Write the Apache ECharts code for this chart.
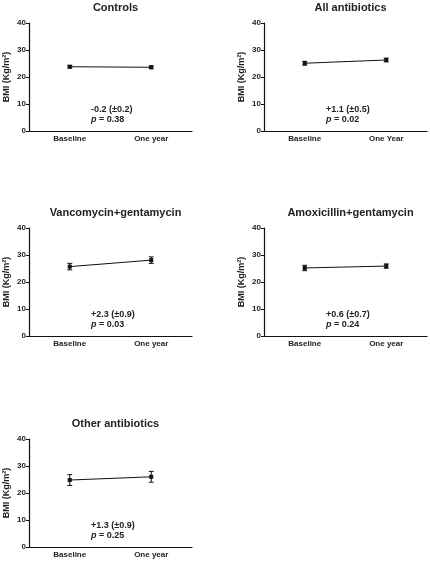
<!DOCTYPE html>
<html><head><meta charset="utf-8">
<script src="https://cdn.jsdelivr.net/npm/echarts@6/dist/echarts.min.js"></script>
<style>html,body{margin:0;padding:0;background:#fff}#c{width:430px;height:563px}</style>
</head><body><div id="c"></div>
<script>
// ---- data ----
const panelTitles = ["Controls", "All antibiotics", "Vancomycin+gentamycin", "Amoxicillin+gentamycin", "Other antibiotics"];
const catLabels = [
  ["Baseline", "One year"],
  ["Baseline", "One Year"],
  ["Baseline", "One year"],
  ["Baseline", "One year"],
  ["Baseline", "One year"]
];
const meanControls = [23.8, 23.6];
const errControls = [0.5, 0.5];
const meanAll = [25.1, 26.3];
const errAll = [0.7, 0.7];
const meanVanco = [25.7, 28.1];
const errVanco = [1.2, 1.2];
const meanAmox = [25.2, 25.9];
const errAmox = [1.0, 0.8];
const meanOther = [24.8, 26.0];
const errOther = [2.0, 2.0];
const changeText = ["-0.2 (\u00b10.2)", "+1.1 (\u00b10.5)", "+2.3 (\u00b10.9)", "+0.6 (\u00b10.7)", "+1.3 (\u00b10.9)"];
const pText = ["0.38", "0.02", "0.03", "0.24", "0.25"];
const yTicks = [0, 10, 20, 30, 40];
const yAxisName = "BMI (Kg/m\u00b2)";

const means = [meanControls, meanAll, meanVanco, meanAmox, meanOther];
const errs = [errControls, errAll, errVanco, errAmox, errOther];

// ---- layout ----
const grids = [
  {left: 29, top: 23, width: 163, height: 108},
  {left: 264, top: 23, width: 163, height: 108},
  {left: 29, top: 228, width: 163, height: 108},
  {left: 264, top: 228, width: 163, height: 108},
  {left: 29, top: 439, width: 163, height: 108}
];
const FONT = "Liberation Sans, Arial, sans-serif";
const TXT = "#222";

const option = {
  animation: false,
  backgroundColor: "#fff",
  title: grids.map((g, i) => ({
    text: panelTitles[i],
    left: g.left + g.width / 2,
    top: g.top - 26,
    textAlign: "center",
    textStyle: {fontFamily: FONT, fontSize: 11, fontWeight: "bold", color: TXT}
  })),
  grid: grids.map(g => Object.assign({containLabel: false}, g)),
  xAxis: grids.map((g, i) => ({
    type: "category",
    gridIndex: i,
    data: catLabels[i],
    boundaryGap: true,
    axisLine: {lineStyle: {color: "#111", width: 1.2}},
    axisTick: {alignWithLabel: true, length: 3, lineStyle: {color: "#111"}},
    axisLabel: {fontFamily: FONT, fontSize: 8, fontWeight: "bold", color: TXT, margin: 4}
  })),
  yAxis: grids.map((g, i) => ({
    type: "value",
    gridIndex: i,
    min: yTicks[0], max: yTicks[yTicks.length - 1], interval: 10,
    name: yAxisName,
    nameLocation: "middle",
    nameGap: 18,
    nameTextStyle: {fontFamily: FONT, fontSize: 9, fontWeight: "bold", color: TXT},
    axisLine: {show: true, lineStyle: {color: "#111", width: 1.2}},
    axisTick: {show: true, length: 3, lineStyle: {color: "#111"}},
    splitLine: {show: false},
    axisLabel: {fontFamily: FONT, fontSize: 8, fontWeight: "bold", color: TXT, margin: 3}
  })),
  series: [],
  graphic: []
};

means.forEach((m, i) => {
  option.series.push({
    type: "line",
    xAxisIndex: i, yAxisIndex: i,
    data: m,
    symbol: "rect",
    symbolSize: 4,
    lineStyle: {color: "#111", width: 1},
    itemStyle: {color: "#111"}
  });
  option.series.push({
    type: "custom",
    xAxisIndex: i, yAxisIndex: i,
    data: m.map((v, k) => [k, v - errs[i][k], v + errs[i][k]]),
    renderItem: function (params, api) {
      const lo = api.coord([api.value(0), api.value(1)]);
      const hi = api.coord([api.value(0), api.value(2)]);
      const w = 2.5;
      const st = {stroke: "#111", lineWidth: 1};
      return {type: "group", children: [
        {type: "line", shape: {x1: lo[0], y1: lo[1], x2: hi[0], y2: hi[1]}, style: st},
        {type: "line", shape: {x1: lo[0] - w, y1: lo[1], x2: lo[0] + w, y2: lo[1]}, style: st},
        {type: "line", shape: {x1: hi[0] - w, y1: hi[1], x2: hi[0] + w, y2: hi[1]}, style: st}
      ]};
    },
    z: 3
  });
  const g = grids[i];
  option.graphic.push({
    type: "text",
    left: g.left + 62,
    top: g.top + g.height - 26,
    style: {
      text: changeText[i] + "\n{it|p} = " + pText[i],
      font: "bold 9px " + FONT,
      fill: TXT,
      lineHeight: 10,
      rich: {it: {fontStyle: "italic", fontWeight: "bold", fontSize: 9, fontFamily: FONT, fill: TXT, lineHeight: 10}}
    }
  });
});

const chart = echarts.init(document.getElementById("c"), null, {renderer: "canvas"});
chart.setOption(option);
</script>
</body></html>
